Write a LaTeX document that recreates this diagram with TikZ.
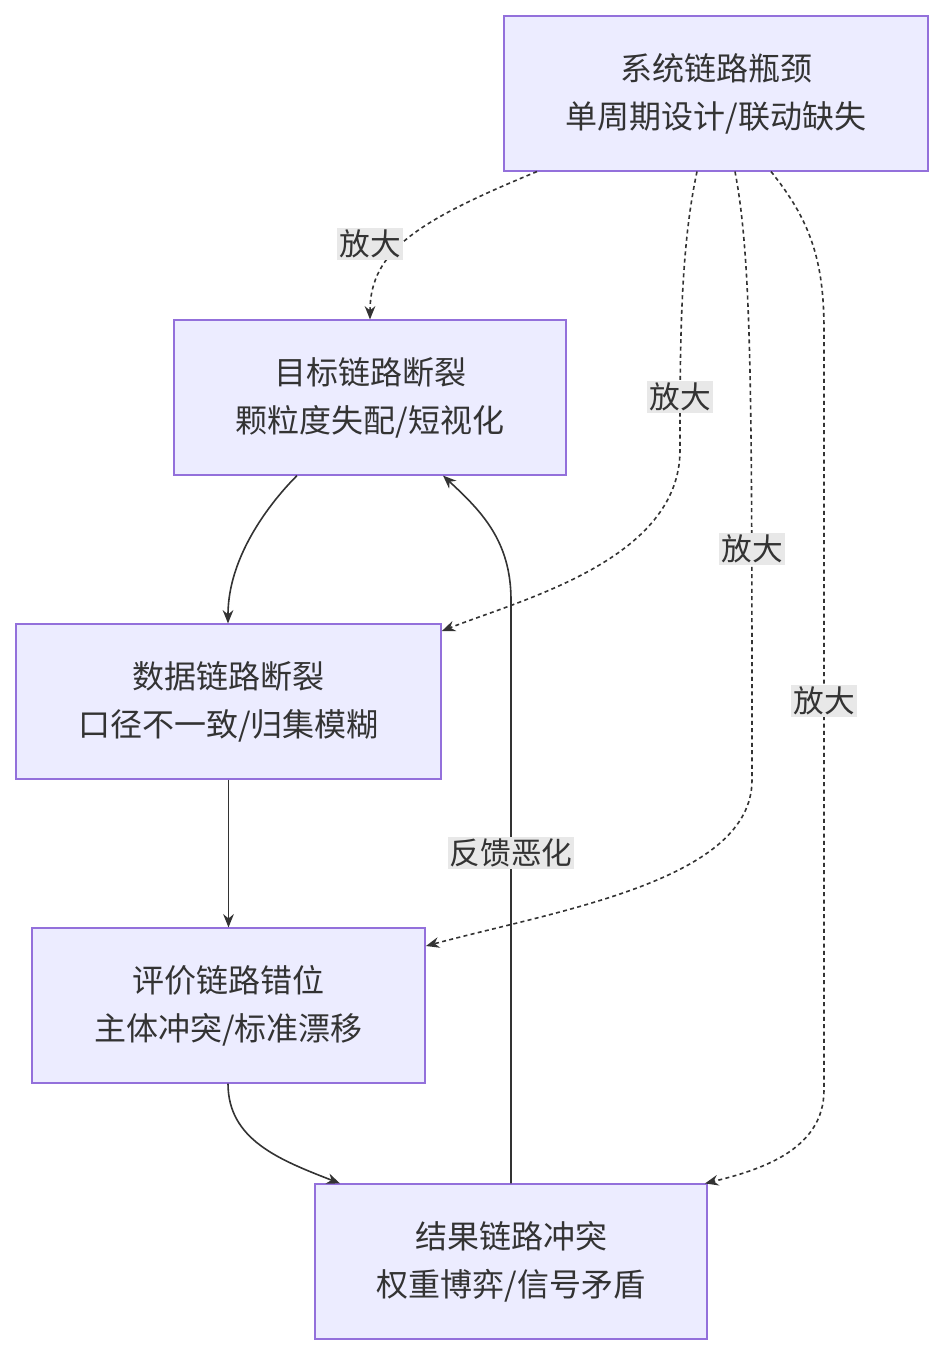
\documentclass[tikz,border=0pt]{standalone}
\usepackage{fontspec}
\setmainfont{Noto Sans CJK SC}
\usepackage{tikz}
\usepackage{xcolor}
\usetikzlibrary{arrows.meta}
\definecolor{boxfill}{RGB}{236,236,255}
\definecolor{boxline}{RGB}{147,112,219}
\definecolor{lblfill}{RGB}{232,232,232}
\definecolor{ink}{RGB}{51,51,51}
\tikzset{
  box/.style={draw=boxline,fill=boxfill,line width=1.1pt,align=center,inner sep=0pt,
    minimum height=116pt,font=\fontsize{24}{36}\selectfont,text=ink},
  link/.style={draw=ink,line width=1.2pt,-{Stealth[length=10pt,width=8pt]}},
  amp/.style={link,dash pattern=on 3pt off 2.5pt},
  tag/.style={fill=lblfill,inner sep=1.5pt,font=\fontsize{23}{26}\selectfont,text=ink}
}
\begin{document}
\begin{tikzpicture}[x=0.75pt,y=0.75pt,yscale=-1,xscale=1]
        \useasboundingbox (0,0) rectangle (944,1356);

        % Boxes
        \node[box,minimum width=318pt] (sys) at (716,93.5) {系统链路瓶颈\\单周期设计/联动缺失};
        \node[box,minimum width=294pt] (goal) at (370,397.5) {目标链路断裂\\颗粒度失配/短视化};
        \node[box,minimum width=319pt] (data) at (228.5,701.5) {数据链路断裂\\口径不一致/归集模糊};
        \node[box,minimum width=295pt] (eval) at (228.5,1005.5) {评价链路错位\\主体冲突/标准漂移};
        \node[box,minimum width=294pt] (res) at (511,1261.5) {结果链路冲突\\权重博弈/信号矛盾};

        % Solid chain
        \draw[link] (goal.south -| 297,0) .. controls (297,476) and (228,540) .. (data.north -| 228,0);
        \draw[link] (data) -- (eval);
        \draw[link] (eval.south -| 228,0) .. controls (228,1140) and (280,1160) .. (res.north -| 340,0);
        \draw[link] (res.north -| 511,0) -- (511,600) .. controls (511,540) and (480,510) .. (goal.south -| 443,0);
        \node[tag] (l0) at (511,853) {反馈恶化};

        % Dashed amplifiers
        \draw[amp] (sys.south -| 537,0) .. controls (420,220) and (370,250) .. (goal.north -| 370,0);
        \node[tag] (l1) at (370,244) {放大};
        \draw[amp] (sys.south -| 697,0) .. controls (680,250) and (680,350) .. (680,450)
          .. controls (680,560) and (520,600) .. (data.north east |- 0,631);
        \node[tag] (l2) at (680,397) {放大};
        \draw[amp] (sys.south -| 735,0) .. controls (752,260) and (752,400) .. (752,780)
          .. controls (752,880) and (560,910) .. (eval.north east |- 0,946);
        \node[tag] (l3) at (752,549) {放大};
        \draw[amp] (sys.south -| 771,0) .. controls (810,220) and (824,260) .. (824,330) -- (824,1090)
          .. controls (824,1150) and (760,1170) .. (res.north -| 705,0);
        \node[tag] (l4) at (824,701) {放大};
\end{tikzpicture}
\end{document}
